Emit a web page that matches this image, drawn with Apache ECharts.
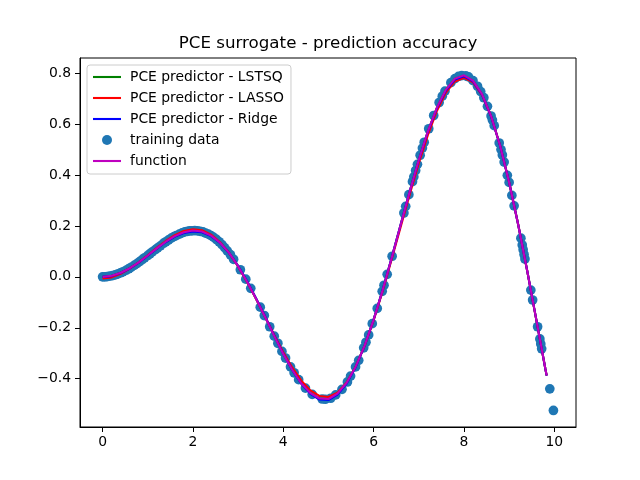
<!DOCTYPE html>
<html>
<head>
<meta charset="utf-8">
<title>PCE surrogate - prediction accuracy</title>
<script src="https://cdn.jsdelivr.net/npm/echarts@6/dist/echarts.min.js"></script>
<style>
  html, body { margin: 0; padding: 0; background: #fff; }
  #main { width: 640px; height: 480px; }
</style>
</head>
<body>
<div id="main"></div>
<script>
// test grid of the predictors / function curve
var lineX = [0, 0.2, 0.4, 0.6, 0.8, 1.0, 1.2, 1.4, 1.6, 1.8, 2.0, 2.2, 2.4, 2.6, 2.8, 3.0, 3.2, 3.4, 3.6, 3.8,
  4.0, 4.2, 4.4, 4.6, 4.8, 5.0, 5.2, 5.4, 5.6, 5.8, 6.0, 6.2, 6.4, 6.6, 6.8, 7.0, 7.2, 7.4, 7.6, 7.8,
  8.0, 8.2, 8.4, 8.6, 8.8, 9.0, 9.2, 9.4, 9.6, 9.8, 9.83];
var functionY = [0.000, 0.004, 0.016, 0.034, 0.057, 0.084, 0.112, 0.138, 0.160, 0.175, 0.182, 0.178, 0.162, 0.134, 0.094, 0.042, -0.019, -0.087, -0.159, -0.233,
  -0.303, -0.366, -0.419, -0.457, -0.478, -0.480, -0.459, -0.417, -0.354, -0.270, -0.168, -0.052, 0.075, 0.206, 0.336, 0.460, 0.572, 0.665, 0.736, 0.779,
  0.792, 0.771, 0.718, 0.632, 0.515, 0.371, 0.205, 0.023, -0.167, -0.359, -0.387];
var lstsqY = [0.000, 0.004, 0.016, 0.034, 0.057, 0.084, 0.112, 0.138, 0.159, 0.174, 0.181, 0.177, 0.162, 0.134, 0.094, 0.042, -0.019, -0.087, -0.159, -0.232,
  -0.302, -0.366, -0.419, -0.458, -0.479, -0.481, -0.460, -0.417, -0.354, -0.270, -0.168, -0.052, 0.075, 0.206, 0.336, 0.460, 0.571, 0.664, 0.735, 0.778,
  0.790, 0.770, 0.717, 0.632, 0.515, 0.371, 0.205, 0.023, -0.167, -0.359, -0.387];
var lassoY = [-0.006, -0.002, 0.012, 0.032, 0.057, 0.085, 0.114, 0.141, 0.164, 0.180, 0.187, 0.183, 0.166, 0.136, 0.094, 0.041, -0.020, -0.087, -0.157, -0.228,
  -0.296, -0.357, -0.408, -0.446, -0.468, -0.472, -0.455, -0.416, -0.354, -0.272, -0.171, -0.056, 0.069, 0.197, 0.325, 0.447, 0.557, 0.652, 0.724, 0.768,
  0.782, 0.764, 0.714, 0.631, 0.516, 0.373, 0.207, 0.024, -0.168, -0.360, -0.388];
var ridgeY = [0.000, 0.003, 0.015, 0.033, 0.056, 0.083, 0.111, 0.137, 0.158, 0.172, 0.178, 0.175, 0.160, 0.133, 0.094, 0.043, -0.017, -0.085, -0.157, -0.231,
  -0.302, -0.366, -0.420, -0.460, -0.482, -0.484, -0.463, -0.420, -0.356, -0.271, -0.168, -0.051, 0.076, 0.207, 0.336, 0.459, 0.570, 0.662, 0.732, 0.775,
  0.788, 0.768, 0.716, 0.631, 0.515, 0.372, 0.206, 0.024, -0.167, -0.360, -0.388];

// training samples
var trainX = [0.00, 0.05, 0.10, 0.16, 0.22, 0.28, 0.33, 0.40, 0.45, 0.52, 0.58, 0.63, 0.70, 0.76, 0.82, 0.88, 0.93, 1.00, 1.05, 1.10,
  1.17, 1.22, 1.28, 1.35, 1.40, 1.46, 1.52, 1.58, 1.63, 1.70, 1.76, 1.82, 1.88, 1.93, 1.98, 2.04, 2.10, 2.16, 2.22, 2.28,
  2.34, 2.40, 2.46, 2.52, 2.58, 2.64, 2.70, 2.76, 2.83, 2.90, 3.05, 3.17, 3.28, 3.49, 3.58, 3.70, 3.80, 3.88, 3.97, 4.05,
  4.16, 4.24, 4.34, 4.49, 4.64, 4.86, 4.93, 5.05, 5.16, 5.30, 5.42, 5.49, 5.60, 5.67, 5.78, 5.83, 5.89, 5.97, 6.08, 6.19,
  6.23, 6.30, 6.41, 6.67, 6.71, 6.78, 6.86, 6.89, 6.93, 6.97, 7.03, 7.08, 7.12, 7.22, 7.33, 7.45, 7.52, 7.58, 7.71, 7.80,
  7.88, 7.95, 8.04, 8.10, 8.20, 8.30, 8.37, 8.44, 8.52, 8.60, 8.63, 8.67, 8.78, 8.82, 8.85, 8.89, 8.96, 9.00, 9.06, 9.11,
  9.26, 9.29, 9.31, 9.33, 9.35, 9.48, 9.52, 9.63, 9.68, 9.70, 9.72, 9.90, 9.98];
var trainY = [0.000, 0.000, 0.001, 0.003, 0.005, 0.008, 0.011, 0.016, 0.020, 0.026, 0.032, 0.037, 0.045, 0.052, 0.060, 0.068, 0.075, 0.084, 0.091, 0.098,
  0.107, 0.114, 0.122, 0.132, 0.138, 0.145, 0.152, 0.158, 0.162, 0.168, 0.173, 0.177, 0.179, 0.181, 0.181, 0.182, 0.181, 0.179, 0.177, 0.172,
  0.168, 0.162, 0.155, 0.147, 0.138, 0.127, 0.115, 0.102, 0.087, 0.069, 0.028, -0.009, -0.045, -0.119, -0.152, -0.196, -0.233, -0.261, -0.293, -0.319,
  -0.354, -0.377, -0.404, -0.437, -0.462, -0.480, -0.481, -0.477, -0.464, -0.442, -0.413, -0.390, -0.354, -0.328, -0.279, -0.257, -0.228, -0.184, -0.124, -0.057,
  -0.033, 0.010, 0.081, 0.251, 0.277, 0.323, 0.374, 0.393, 0.418, 0.442, 0.478, 0.506, 0.529, 0.582, 0.634, 0.685, 0.710, 0.730, 0.763, 0.779,
  0.788, 0.791, 0.790, 0.786, 0.771, 0.749, 0.728, 0.704, 0.670, 0.632, 0.616, 0.594, 0.526, 0.500, 0.479, 0.451, 0.399, 0.371, 0.320, 0.279,
  0.152, 0.125, 0.107, 0.088, 0.070, -0.052, -0.091, -0.196, -0.244, -0.264, -0.283, -0.440, -0.525];

var xTicks = [0, 2, 4, 6, 8, 10];
var yTicks = [-0.4, -0.2, 0.0, 0.2, 0.4, 0.6, 0.8];

// flat bar used as legend handle for the lines
var lineIcon = 'path://M0,0h28v2.1h-28z';

function pairs(xs, ys) {
  return xs.map(function (x, i) { return [x, ys[i]]; });
}
function lineSeries(name, color, ys) {
  return {
    name: name,
    type: 'line',
    data: pairs(lineX, ys),
    color: color,
    symbol: 'none',
    showSymbol: false,
    lineStyle: { width: 2.08, color: color },
    emphasis: { disabled: true },
    z: 3
  };
}

var font = 'DejaVu Sans';
var chart = echarts.init(document.getElementById('main'));
chart.setOption({
  animation: false,
  textStyle: { fontFamily: font },
  title: {
    text: 'PCE surrogate - prediction accuracy',
    left: 328,
    top: 35,
    padding: 0,
    textAlign: 'center',
    textStyle: { fontSize: 16.7, fontWeight: 'normal', color: '#000', fontFamily: font }
  },
  legend: {
    orient: 'vertical',
    left: 87,
    top: 65,
    padding: [5, 7, 6, 6],
    itemGap: 7,
    itemWidth: 28,
    itemHeight: 10,
    borderColor: '#cccccc',
    borderWidth: 1,
    borderRadius: 3,
    backgroundColor: 'rgba(255,255,255,0.8)',
    selectedMode: false,
    textStyle: { fontSize: 13.9, color: '#000', fontFamily: font, padding: [0, 0, 0, 4] },
    data: [
      { name: 'PCE predictor - LSTSQ', icon: lineIcon },
      { name: 'PCE predictor - LASSO', icon: lineIcon },
      { name: 'PCE predictor - Ridge', icon: lineIcon },
      { name: 'training data', icon: 'circle' },
      { name: 'function', icon: lineIcon }
    ]
  },
  grid: {
    left: 80, right: 64, top: 58, bottom: 53,
    show: true, borderColor: '#000', borderWidth: 1
  },
  xAxis: {
    type: 'value',
    min: -0.5,
    max: 10.48,
    splitLine: { show: false },
    axisLine: { show: true, onZero: false, lineStyle: { color: '#000', width: 1 } },
    axisTick: { show: true, length: 5, lineStyle: { color: '#000', width: 1 }, customValues: xTicks },
    axisLabel: { color: '#000', fontSize: 13.9, margin: 8, customValues: xTicks }
  },
  yAxis: {
    type: 'value',
    min: -0.59,
    max: 0.86,
    splitLine: { show: false },
    axisLine: { show: true, onZero: false, lineStyle: { color: '#000', width: 1 } },
    axisTick: { show: true, length: 5, lineStyle: { color: '#000', width: 1 }, customValues: yTicks },
    axisLabel: {
      color: '#000', fontSize: 13.9, margin: 9, customValues: yTicks,
      formatter: function (v) { return v.toFixed(1).replace('-', '\u2212'); }
    }
  },
  series: [
    {
      name: 'training data',
      type: 'scatter',
      data: pairs(trainX, trainY),
      symbolSize: 9.7,
      color: '#1f77b4',
      itemStyle: { color: '#1f77b4', opacity: 1 },
      emphasis: { disabled: true },
      z: 1
    },
    lineSeries('PCE predictor - LSTSQ', '#008000', lstsqY),
    lineSeries('PCE predictor - LASSO', '#ff0000', lassoY),
    lineSeries('PCE predictor - Ridge', '#0000ff', ridgeY),
    lineSeries('function', '#bf00bf', functionY)
  ]
});
</script>
</body>
</html>
